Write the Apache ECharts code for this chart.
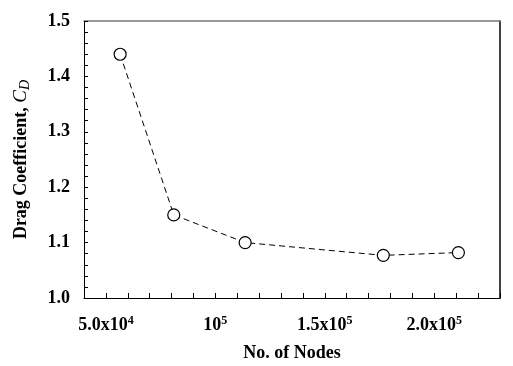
<!DOCTYPE html>
<html>
<head>
    <meta charset="utf-8">
    <title>Drag coefficient</title>
    <script src="https://cdn.jsdelivr.net/npm/echarts@6/dist/echarts.min.js"></script>
</head>
<style>
    html, body {
        margin: 0;
        background: #fff;
    }
    #main {
        width: 513px;
        height: 366px;
    }
</style>
<body>
    <div id="main"></div>
    <script type="text/javascript">
        // data
        var nodes = [56500, 81000, 113600, 176700, 211000];
        var dragCoef = [1.44, 1.15, 1.10, 1.077, 1.082];

        // x tick labels: mantissa and exponent
        var xTickValues = [50000, 100000, 150000, 200000];
        var xTickBase = ['5.0x10', '10', '1.5x10', '2.0x10'];
        var xTickExp = ['4', '5', '5', '5'];

        var fontFam = '"Liberation Serif", "Times New Roman", serif';

        var points = [];
        for (var i = 0; i < nodes.length; i++) {
            points.push([nodes[i], dragCoef[i]]);
        }

        var labelRich = {
            b: { fontFamily: fontFam, fontWeight: 'bold', fontSize: 18, color: '#000', lineHeight: 20 },
            sup: { fontFamily: fontFam, fontWeight: 'bold', fontSize: 12, color: '#000', verticalAlign: 'top', lineHeight: 20 }
        };

        var option = {
            backgroundColor: '#fff',
            animation: false,
            grid: {
                left: 84,
                right: 13,
                top: 21,
                bottom: 68,
                outerBoundsMode: 'none',
                containLabel: false
            },
            xAxis: [{
                type: 'value',
                min: 40000,
                max: 230000,
                interval: 10000,
                splitLine: { show: false },
                axisLine: { show: true, lineStyle: { color: '#000', width: 1 } },
                axisTick: { show: true, inside: true, length: 5, lineStyle: { color: '#000' } },
                axisLabel: {
                    margin: 17,
                    showMinLabel: true,
                    showMaxLabel: true,
                    formatter: function (v) {
                        var k = xTickValues.indexOf(v);
                        if (k < 0) return '';
                        return '{b|' + xTickBase[k] + '}{sup|' + xTickExp[k] + '}';
                    },
                    rich: labelRich
                },
                name: 'No. of Nodes',
                nameLocation: 'middle',
                nameGap: 46,
                nameTextStyle: { fontFamily: fontFam, fontWeight: 'bold', fontSize: 18, color: '#000' }
            }, {
                type: 'value',
                position: 'top',
                min: 40000,
                max: 230000,
                axisLine: { show: true, onZero: false, lineStyle: { color: '#777', width: 1.5 } },
                axisTick: { show: false },
                axisLabel: { show: false },
                splitLine: { show: false }
            }],
            yAxis: [{
                type: 'value',
                min: 1.0,
                max: 1.5,
                interval: 0.02,
                splitLine: { show: false },
                axisLine: { show: true, lineStyle: { color: '#000', width: 1 } },
                axisTick: { show: true, inside: true, length: 4, lineStyle: { color: '#000' } },
                axisLabel: {
                    margin: 14,
                    fontFamily: fontFam,
                    fontWeight: 'bold',
                    fontSize: 18,
                    color: '#000',
                    formatter: function (v) {
                        if (Math.round(v * 100) % 10 !== 0) return '';
                        return v.toFixed(1);
                    }
                },
                name: '{t|Drag Coefficient, }{c|C}{d|D}',
                nameLocation: 'middle',
                nameRotate: 90,
                nameGap: 52,
                nameTextStyle: {
                    rich: {
                        t: { fontFamily: fontFam, fontWeight: 'bold', fontSize: 18, color: '#000', lineHeight: 22 },
                        c: { fontFamily: fontFam, fontStyle: 'italic', fontSize: 19, color: '#000', lineHeight: 22 },
                        d: { fontFamily: fontFam, fontStyle: 'italic', fontSize: 14, color: '#000', verticalAlign: 'bottom', lineHeight: 22 }
                    }
                }
            }, {
                type: 'value',
                position: 'right',
                min: 1.0,
                max: 1.5,
                axisLine: { show: true, onZero: false, lineStyle: { color: '#000', width: 1.5 } },
                axisTick: { show: false },
                axisLabel: { show: false },
                splitLine: { show: false }
            }],
            series: [{
                type: 'line',
                data: points,
                symbol: 'circle',
                symbolSize: 12,
                lineStyle: { color: '#000', width: 1, type: [6, 4] },
                itemStyle: { color: '#fff', borderColor: '#000', borderWidth: 1.2 },
                z: 3
            }]
        };

        var myChart = echarts.init(document.getElementById('main'));
        myChart.setOption(option);
    </script>
</body>
</html>
